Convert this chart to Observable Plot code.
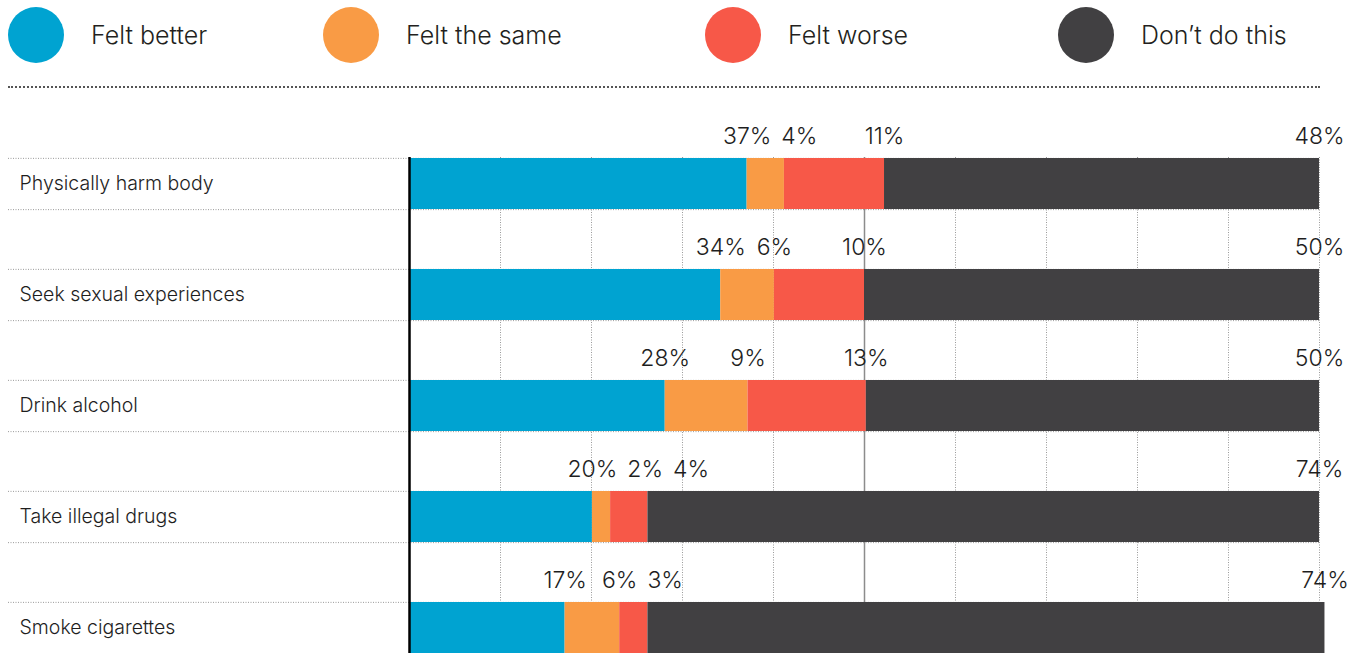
<!DOCTYPE html>
<html><head><meta charset="utf-8">
<script src="https://cdn.jsdelivr.net/npm/d3@7"></script>
<script src="https://cdn.jsdelivr.net/npm/@observablehq/plot@0.6"></script>
<style>
body{margin:0;background:#fff;font-family:Inter,Roboto,"Liberation Sans",sans-serif;font-weight:300;color:#231f20;width:1360px;height:653px;overflow:hidden;position:relative}
#legend{position:absolute;left:0;top:0;width:1360px;height:95px}
.item{position:absolute;top:7px;display:flex;align-items:center;height:56px}
.sw{width:56px;height:56px;border-radius:50%;margin-right:27px;flex:none}
.lab{font-size:25px;white-space:nowrap}
#sep{position:absolute;left:8px;top:86px;width:1312px;border-top:2px dotted #555}
#chart{position:absolute;left:0;top:95px}
#chart svg{overflow:visible}
</style></head><body>
<div id="legend"></div><div id="sep"></div><div id="chart"></div>
<script>
const activities = ["Physically harm body","Seek sexual experiences","Drink alcohol","Take illegal drugs","Smoke cigarettes"];
const responses = ["Felt better","Felt the same","Felt worse","Don’t do this"];
const feltBetter = [37.1,34.2,28.1,20.1,17.1];
const feltSame   = [4.1,5.9,9.1,2.0,6.0];
const feltWorse  = [11.0,9.9,13.0,4.1,3.1];
const dontDo     = [47.8,50.0,49.8,73.8,74.4];
const colors = ["#00a3d1","#f99b45","#f75848","#414042"];
const gridTicks = [10,20,30,40,60,70,80,90,100];
const midTick = [50];

const series = [feltBetter, feltSame, feltWorse, dontDo];
const data = [];
activities.forEach((a,i)=>responses.forEach((r,j)=>data.push({activity:a,response:r,value:series[j][i]})));

const FONT = 'Inter,Roboto,"Liberation Sans",sans-serif';

// legend
const legendLefts = [8,323,705,1058];
const legend = document.getElementById("legend");
responses.forEach((r,j)=>{
  const it = document.createElement("div");
  it.className="item"; it.style.left = legendLefts[j]+"px";
  it.innerHTML = `<div class="sw" style="background:${colors[j]}"></div><div class="lab">${r}</div>`;
  legend.appendChild(it);
});

// layout
const W = 1360, mL = 409, mR = 41;
const pxPer = (W - mL - mR) / 100;
const yTop = 62, yBot = 559, padIn = 0.54;
const step = (yBot - yTop) / (activities.length - padIn);
const bw = step * (1 - padIn);
const labelSize = 23;

const ctx = document.createElement("canvas").getContext("2d");
ctx.font = `300 ${labelSize}px ${FONT}`;

const labels = [];
activities.forEach((a,i)=>{
  let cum = 0, prev = null;
  series.forEach((s,j)=>{
    cum += s[i];
    const text = Math.round(s[i]) + "%";
    const w = ctx.measureText(text).width;
    let px = mL + cum * pxPer;
    if (prev) px = Math.max(px, prev.px + (prev.w + w)/2 + 10);
    const l = {activity:a, text, w, px, pos:(px - mL)/pxPer};
    labels.push(l); prev = l;
  });
});

const chart = Plot.plot({
  width: W, height: 560,
  marginLeft: mL, marginRight: mR, marginTop: yTop, marginBottom: 0,
  x: {domain:[0,100], axis:null},
  y: {domain: activities, range:[yTop,yBot], paddingInner: padIn, paddingOuter: 0, axis:null},
  color: {domain: responses, range: colors},
  style: {fontFamily:FONT, fontWeight:300, color:"#231f20", background:"transparent"},
  marks: [
    Plot.ruleX(gridTicks, {x:d=>d, stroke:"#9a9a9a", strokeWidth:1, strokeDasharray:"1,1.5"}),
    Plot.ruleX(midTick, {x:d=>d, stroke:"#8c8c8c", strokeWidth:1.5}),
    Plot.ruleY(activities, {y:d=>d, x1:0, x2:100, dy:-bw/2, insetLeft:-401, insetRight:-1, stroke:"#9a9a9a", strokeWidth:1, strokeDasharray:"1,1.5"}),
    Plot.ruleY(activities, {y:d=>d, x1:0, x2:100, dy:bw/2, insetLeft:-401, insetRight:-1, stroke:"#9a9a9a", strokeWidth:1, strokeDasharray:"1,1.5"}),
    Plot.barX(data, {y:"activity", x:"value", fill:"response", order: responses}),
    Plot.ruleX([0], {stroke:"#000", strokeWidth:2.5}),
    Plot.text(activities, {x:0, y:d=>d, text:d=>d, dx:-390, textAnchor:"start", fontSize:19.5, fill:"#1e1e1e"}),
    Plot.text(labels, {x:"pos", y:"activity", text:"text", dy:-47, fontSize:labelSize, fill:"#1e1e1e"})
  ]
});
document.getElementById("chart").appendChild(chart);
</script>
</body></html>
